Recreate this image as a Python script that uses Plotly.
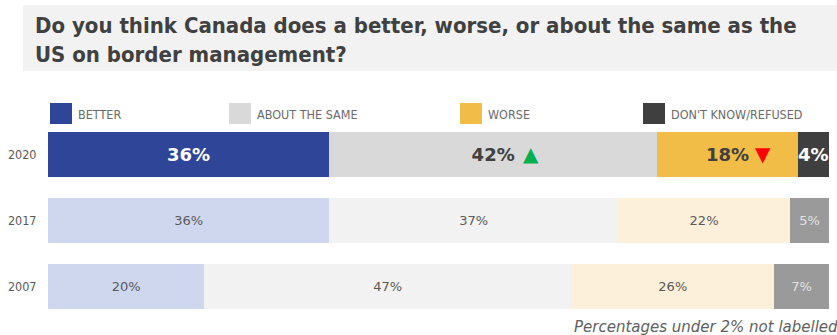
import plotly.graph_objects as go

# Survey results by year (percent of respondents)
years = ["2020", "2017", "2007"]
better = [36, 36, 20]
same = [42, 37, 47]
worse = [18, 22, 26]
dont_know = [4, 5, 7]

series_names = ["BETTER", "ABOUT THE SAME", "WORSE", "DON'T KNOW/REFUSED"]

# Change markers for the latest wave (vs. previous wave)
same_trend = ["up", None, None]
worse_trend = ["down", None, None]

title_lines = [
    "Do you think Canada does a better, worse, or about the same as the",
    "US on border management?",
]
footnote = "Percentages under 2% not labelled"

# Styling: the latest year is drawn strong, earlier years faded
bar_colors = {
    "BETTER": ["#2F4598", "#CFD7EF", "#CFD7EF"],
    "ABOUT THE SAME": ["#D9D9D9", "#F2F2F2", "#F2F2F2"],
    "WORSE": ["#F1BD47", "#FCF0DA", "#FCF0DA"],
    "DON'T KNOW/REFUSED": ["#3F3F3F", "#9A9A9A", "#9A9A9A"],
}
text_colors = {
    "BETTER": ["#FFFFFF", "#595959", "#595959"],
    "ABOUT THE SAME": ["#404040", "#595959", "#595959"],
    "WORSE": ["#404040", "#595959", "#595959"],
    "DON'T KNOW/REFUSED": ["#FFFFFF", "#E2E2E2", "#E2E2E2"],
}
trend_style = {
    "up": dict(symbol="▲", color="#00B050", shift=38),
    "down": dict(symbol="▼", color="#FF0000", shift=36),
}

COND = "DejaVu Sans Condensed"

W, H = 837, 335
L, R, T, B = 48, 8, 122, 16
PW, PH = W - L - R, H - T - B


def px(x):
    return (x - L) / PW


def py(y):
    return 1 - (y - T) / PH


def labels(values):
    out = []
    for i, v in enumerate(values):
        if v < 2:
            out.append("")
        elif i == 0:
            out.append(f"<b>{v}%</b>")
        else:
            out.append(f"{v}%")
    return out


fig = go.Figure()
data = [better, same, worse, dont_know]
for name, vals in zip(series_names, data):
    fig.add_trace(go.Bar(
        y=years, x=vals, name=name, orientation="h",
        marker=dict(color=bar_colors[name], line=dict(width=0)),
        text=labels(vals),
        textposition="inside", insidetextanchor="middle",
        textangle=0, constraintext="none",
        textfont=dict(family="DejaVu Sans", color=text_colors[name],
                      size=[18, 13, 13]),
        hoverinfo="skip",
    ))

annotations = []
shapes = []

# Trend arrows placed just right of the segment labels
for i in range(len(years)):
    start_same = better[i]
    start_worse = better[i] + same[i]
    for trend, start, val in ((same_trend[i], start_same, same[i]),
                              (worse_trend[i], start_worse, worse[i])):
        if trend is None:
            continue
        st = trend_style[trend]
        annotations.append(dict(
            x=start + val / 2, y=i, xref="x", yref="y",
            text=st["symbol"],
            font=dict(family="DejaVu Sans", size=20, color=st["color"]),
            showarrow=False, xanchor="center", yanchor="middle",
            xshift=st["shift"], yshift=1,
        ))

# Title panel
shapes.append(dict(type="rect", xref="paper", yref="paper",
                   x0=px(23), x1=px(W + 5), y0=py(71), y1=py(5),
                   fillcolor="#F2F2F2", line=dict(width=0), layer="below"))
for line, yc in zip(title_lines, (26, 54)):
    annotations.append(dict(
        x=px(33), y=py(yc), xref="paper", yref="paper",
        text=f"<b>{line}</b>", showarrow=False,
        xanchor="left", yanchor="middle",
        font=dict(family=COND, size=22, color="#404040"),
    ))

# Legend row
legend_sq = [50, 229, 460, 643]
for name, x0 in zip(series_names, legend_sq):
    shapes.append(dict(type="rect", xref="paper", yref="paper",
                       x0=px(x0), x1=px(x0 + 22), y0=py(124), y1=py(103),
                       fillcolor=bar_colors[name][0], line=dict(width=0)))
    annotations.append(dict(
        x=px(x0 + 26), y=py(114), xref="paper", yref="paper",
        text=name, showarrow=False, xanchor="left", yanchor="middle",
        font=dict(family=COND, size=12.5, color="#6A6A6A"),
    ))

# Footnote
annotations.append(dict(
    x=px(572), y=py(327), xref="paper", yref="paper",
    text=f"<i>{footnote}</i>", showarrow=False,
    xanchor="left", yanchor="middle",
    font=dict(family="DejaVu Sans", size=15, color="#606060"),
))

fig.update_layout(
    width=W, height=H,
    margin=dict(l=L, r=R, t=T, b=B, pad=0),
    barmode="stack", bargap=0.313,
    showlegend=False,
    paper_bgcolor="white", plot_bgcolor="white",
    xaxis=dict(range=[0, 100], visible=False, fixedrange=True,
               automargin=False),
    yaxis=dict(type="category", range=[len(years) - 0.5, -0.5],
               autorange=False, automargin=False, showgrid=False,
               showline=False, zeroline=False, ticks="outside", ticklen=8,
               tickcolor="rgba(0,0,0,0)",
               tickfont=dict(family=COND, size=12.5, color="#595959")),
    shapes=shapes,
    annotations=annotations,
)

fig.write_html("out.html")
